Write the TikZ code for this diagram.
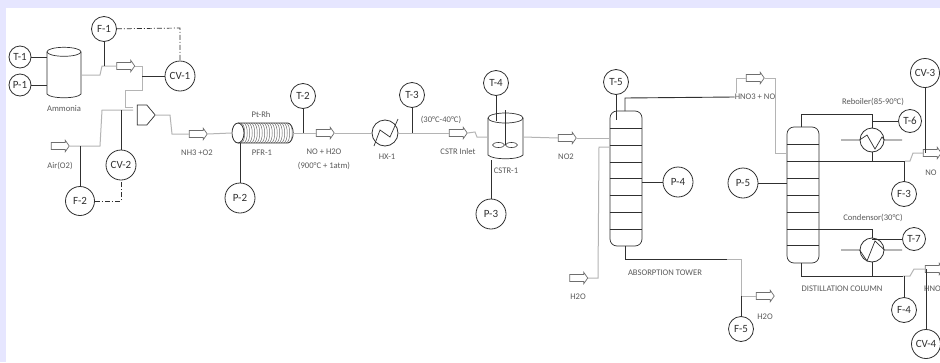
\documentclass[tikz,border=0pt]{standalone}
\usepackage{fontspec}
\setmainfont{Carlito}
\usepackage{xcolor}
\usetikzlibrary{shapes.arrows,shapes.geometric,shapes.symbols,positioning}

\definecolor{pagelav}{HTML}{E6E6FF}
\definecolor{pipegrey}{HTML}{B4B4B4}
\definecolor{inkgrey}{HTML}{303030}

\begin{document}
\begin{tikzpicture}[
        x=1pt, y=-1pt,
        inst/.style={
            circle, draw=inkgrey, line width=0.8pt, fill=white,
            minimum size=#1, inner sep=0pt, text=inkgrey,
            font=\fontsize{11}{12}\selectfont
        },
        flow/.style={
            single arrow, draw=inkgrey!70, line width=0.7pt, fill=white,
            minimum height=18pt, inner xsep=0pt, inner ysep=3.2pt,
            single arrow head extend=2.2pt, single arrow tip angle=110
        },
        lbl/.style={inner sep=0pt, text=inkgrey!80, font=\fontsize{8.6}{10}\selectfont},
        pipe/.style={draw=pipegrey, line width=1pt},
        stem/.style={draw=inkgrey, line width=0.9pt},
        signalline/.style={draw=inkgrey, line width=0.7pt, dash pattern=on 5pt off 2pt on 1pt off 2pt},
        vessel/.style={draw=inkgrey, line width=0.7pt, rounded corners=7pt, fill=white, inner sep=0pt},
        can/.style={inner sep=0pt},
        canline/.style={draw=inkgrey, line width=0.7pt},
        hxbox/.style={circle, draw=inkgrey, line width=0.8pt, minimum size=#1, inner sep=0pt}
    ]

    \fill[pagelav] (0,0) rectangle (940,362);
    \fill[white] (6,8) rectangle (940,362);
    \useasboundingbox (0,0) rectangle (940,362);
    \clip (0,0) rectangle (940,362);

    % equipamentos
    \node[can, minimum width=34pt, minimum height=46pt] (ammonia) at (64,75) {};
    \draw[canline] (ammonia.north) ellipse (17pt and 4.5pt);
    \draw[canline] (47,52) -- (47,94) .. controls (50,99) and (78,99) .. (81,94) -- (81,52);
    \node[signal, signal to=east, signal pointer angle=100, draw=inkgrey, line width=0.7pt,
        minimum width=18pt, minimum height=20pt, inner sep=0pt] (mixer) at (142,115) {};
    \node[hxbox=26pt] (hx1) at (385,133) {};
    \node[can, minimum width=35pt, minimum height=48pt] (cstr) at (505.5,137) {};
    \draw[canline] (505.5,118) ellipse (17.5pt and 5pt);
    \draw[canline] (488,118) -- (488,155) .. controls (492,160) and (519,160) .. (523,155) -- (523,118);
    \node[vessel, minimum width=32pt, minimum height=135pt] (abs) at (626,178.5) {};
    \node[vessel, minimum width=32pt, minimum height=136pt] (dist) at (803,195) {};
    \node[hxbox=24pt] (reb) at (872,140) {};
    \node[hxbox=24pt] (con) at (872,250) {};

    % reator PFR
    \foreach \x in {241,243.5,...,290} {
        \draw[inkgrey!70, line width=0.5pt] (\x,123) .. controls (\x+5,124) and (\x+5,142) .. (\x,143);
    }
    \draw[inkgrey, line width=0.7pt] (238,123) -- (288,123) .. controls (295,125) and (295,141) .. (288,143) -- (238,143);
    \node[ellipse, draw=inkgrey, line width=0.8pt, fill=white, minimum width=12pt, minimum height=20pt, inner sep=0pt] (pfr) at (238,133) {};

    % pratos das colunas
    \foreach \y in {128,145,162,178,195,212,229} {
        \draw[inkgrey, line width=0.7pt] (abs.west |- 0,\y) -- (abs.east |- 0,\y);
    }
    \foreach \y in {144,161,178,195,212,229,245} {
        \draw[inkgrey, line width=0.7pt] (dist.west |- 0,\y) -- (dist.east |- 0,\y);
    }

    % agitador e trocadores
    \draw[inkgrey, line width=0.6pt] (505,110) -- (505,145);
    \node[ellipse, draw=inkgrey, line width=0.6pt, minimum width=12pt, minimum height=5pt, inner sep=0pt] (bladeA) at (498.5,145) {};
    \node[ellipse, draw=inkgrey, line width=0.6pt, minimum width=12pt, minimum height=5pt, inner sep=0pt] (bladeB) at (511.5,145) {};
    \draw[inkgrey, line width=0.7pt] (374,146) -- (380,130) -- (390,137) -- (398,119);
    \draw[inkgrey, line width=0.7pt] (841,140) -- (reb.west) -- (867,135) -- (875,149) -- (882,137) -- (reb.east) -- (902,140);
    \draw[inkgrey, line width=0.7pt] (841,250) -- (con.west) -- (867,261) -- (875,241) -- (con.east) -- (902,250);

    % setas de fluxo
    \node[flow] (arrA) at (124.5,66) {};
    \node[flow] (arrB) at (59,146) {};
    \node[flow] (arrC) at (197,134) {};
    \node[flow] (arrD) at (324,133) {};
    \node[flow] (arrE) at (457,133) {};
    \node[flow] (arrF) at (566,138) {};
    \node[flow] (arrG) at (577.5,278) {};
    \node[flow] (arrH) at (764,296) {};
    \node[flow] (arrI) at (754,78) {};
    \node[flow] (arrJ) at (931,153) {};
    \node[flow] (arrK) at (933,269) {};

    % instrumentos
    \node[inst=22pt] (t1) at (20,57) {T-1};
    \node[inst=22pt] (p1) at (20,85) {P-1};
    \node[inst=25pt] (f1) at (104,29) {F-1};
    \node[inst=30pt] (cv1) at (180,76) {CV-1};
    \node[inst=30pt] (cv2) at (121,165) {CV-2};
    \node[inst=29pt] (f2) at (80,201) {F-2};
    \node[inst=30pt] (p2) at (240,198) {P-2};
    \node[inst=25pt] (t2) at (303,96) {T-2};
    \node[inst=25pt] (t3) at (412,95) {T-3};
    \node[inst=25pt] (t4) at (496,83) {T-4};
    \node[inst=30pt] (p3) at (491,214) {P-3};
    \node[inst=25pt] (t5) at (616,82) {T-5};
    \node[inst=30pt] (p4) at (678,182) {P-4};
    \node[inst=25pt] (f5) at (741,329) {F-5};
    \node[inst=30pt] (p5) at (743,183) {P-5};
    \node[inst=23pt] (t6) at (910,121) {T-6};
    \node[inst=25pt] (f3) at (904,194) {F-3};
    \node[inst=23pt] (t7) at (914,239) {T-7};
    \node[inst=25pt] (f4) at (904,310) {F-4};
    \node[inst=29pt] (cv3) at (925,73) {CV-3};
    \node[inst=29pt] (cv4) at (926,344) {CV-4};

    % textos
    \node[lbl] (lammonia) at (64,108.5) {Ammonia};
    \node[lbl] (lair) at (60,166) {Air(O2)};
    \node[lbl] (lnh3) at (197,152.5) {NH3 +O2};
    \node[lbl] (lptrh) at (261,115) {Pt-Rh};
    \node[lbl] (lpfr) at (262,152.5) {PFR-1};
    \node[lbl] (lno) at (324,152) {NO + H2O};
    \node[lbl] (ltemp) at (324,166) {(900°C + 1atm)};
    \node[lbl] (lhx) at (387,156.5) {HX-1};
    \node[lbl] (lcool) at (441,119.5) {(30°C-40°C)};
    \node[lbl] (linlet) at (458,152) {CSTR Inlet};
    \node[lbl] (lcstr) at (506,171) {CSTR-1};
    \node[lbl] (lno2) at (566,157) {NO2};
    \node[lbl] (lwatera) at (578,297) {H2O};
    \node[lbl] (labs) at (665,272.5) {ABSORPTION TOWER};
    \node[lbl] (lhno) at (755,97) {HNO3 + NO};
    \node[lbl] (lreb) at (873,102) {Reboiler(85-90°C)};
    \node[lbl] (lnotop) at (931,173) {NO};
    \node[lbl] (lcon) at (873,218) {Condensor(30°C)};
    \node[lbl] (ldist) at (842,289) {DISTILLATION COLUMN};
    \node[lbl] (lwaterb) at (765,317) {H2O};
    \node[lbl, anchor=west] (lhnoend) at (924,288.5) {HNO};

    % linhas de processo
    \draw[pipe] (ammonia.east) -- (100,75) -- (102,66) -- (arrA.tail);
    \draw[pipe] (arrA.tip) -- (142,66) -- (142,90) -- (125,90) -- (125,107) -- (133,107);
    \draw[pipe] (arrB.tip) -- (100,146) -- (102,110) -- (133,110);
    \draw[pipe] (mixer.east) -- (170,115) -- (172,134) -- (arrC.tail);
    \draw[pipe] (arrC.tip) -- (pfr.west);
    \draw[pipe] (293,133) -- (arrD.tail);
    \draw[pipe] (arrD.tip) -- (hx1.west);
    \draw[pipe] (hx1.east) -- (arrE.tail);
    \draw[pipe] (arrE.tip) -- (475,132) -- (477,137) -- (cstr.west);
    \draw[pipe] (cstr.east) -- (arrF.tail);
    \draw[pipe] (arrF.tip) -- (abs.west |- arrF);
    \draw[pipe] (arrG.tip) -- (598,278) -- (599,147) -- (abs.west |- 0,147);
    \draw[pipe] (727,259) -- (741,259) -- (741,296) -- (arrH.tail);
    \draw[pipe] (736,93) -- (736,78) -- (arrI.tail);
    \draw[pipe] (arrI.tip) -- (775,78) -- (775,153) -- (dist.west |- 0,153);
    \draw[pipe] (905,161) -- (910,161) -- (913,153) -- (arrJ.tail);
    \draw[pipe] (903,276) -- (910,276) -- (914,269) -- (arrK.tail);

    % linhas escuras
    \draw[stem] (t1) -- (t1 -| ammonia.west);
    \draw[stem] (p1) -- (p1 -| ammonia.west);
    \draw[stem] (f1) -- (f1 |- arrA);
    \draw[stem] (cv1) -- (cv1 -| 142,0);
    \draw[stem] (f2) -- (f2 |- arrB);
    \draw[stem] (cv2) -- (cv2 |- 0,110);
    \draw[stem] (p2) -- (p2 |- pfr.south);
    \draw[stem] (t2) -- (t2 |- arrD);
    \draw[stem] (t3) -- (t3 |- arrE);
    \draw[stem] (t4) -- (t4 |- 0,121);
    \draw[stem] (p3) -- (p3 |- 0,160);
    \draw[stem] (t5) -- (t5 |- 0,120);
    \draw[stem] (625,111) -- (625,98) -- (lhno.west);
    \draw[stem] (p4) -- (abs.east |- p4);
    \draw[stem] (625,246) -- (625,259) -- (727,259);
    \draw[stem] (f5) -- (f5 |- arrH);
    \draw[stem] (p5) -- (dist.west |- p5);
    \draw[stem, line width=0.7pt] (801,127) -- (801,114) -- (872,114) -- (reb.north);
    \draw[stem, line width=0.7pt] (reb.south) -- (872,161);
    \draw[stem] (dist.east |- 0,161) -- (905,161);
    \draw[stem] (t6) -- (t6 -| reb.north);
    \draw[stem] (f3) -- (f3 |- 0,161);
    \draw[stem] (cv3) -- (cv3 |- arrJ);
    \draw[stem, line width=0.7pt] (dist.east |- 0,229) -- (872,229) -- (con.north);
    \draw[stem, line width=0.7pt] (con.south) -- (872,276);
    \draw[stem] (t7) -- (t7 -| con.center);
    \draw[stem] (801,263) -- (801,276) -- (903,276);
    \draw[stem] (f4) -- (f4 |- 0,276);
    \draw[stem] (cv4) -- (cv4 |- arrK);

    % sinais de controle
    \draw[signalline] (f1) -- (180,28) -- (cv1);
    \draw[signalline] (f2) -- (121,201) -- (cv2);

\end{tikzpicture}
\end{document}
